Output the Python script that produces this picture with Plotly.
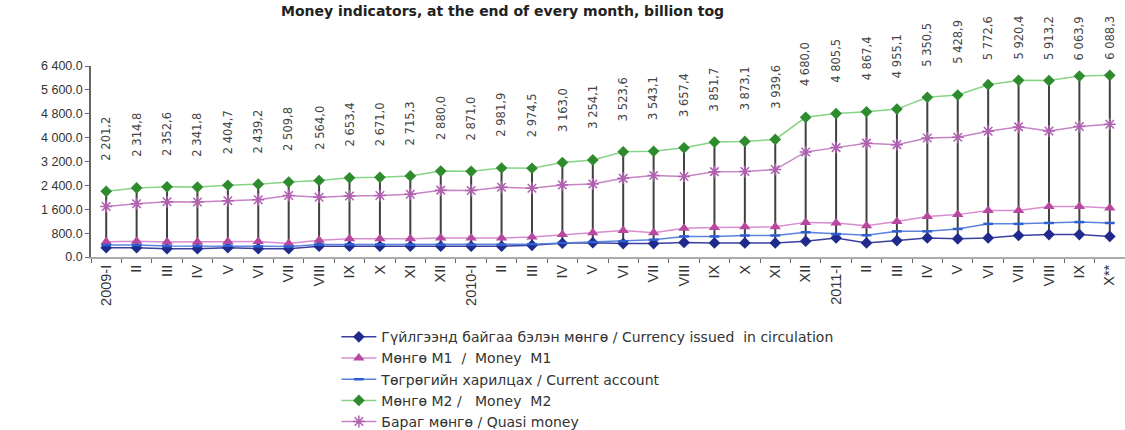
import plotly.graph_objects as go

# ---------------- data ----------------
categories = ["2009-I", "II", "III", "IV", "V", "VI", "VII", "VIII", "IX", "X", "XI", "XII",
              "2010-I", "II", "III", "IV", "V", "VI", "VII", "VIII", "IX", "X", "XI", "XII",
              "2011-I", "II", "III", "IV", "V", "VI", "VII", "VIII", "IX", "X**"]

money_m2 = [2201.2, 2314.8, 2352.6, 2341.8, 2404.7, 2439.2, 2509.8, 2564.0, 2653.4, 2671.0,
            2715.3, 2880.0, 2871.0, 2981.9, 2974.5, 3163.0, 3254.1, 3523.6, 3543.1, 3657.4,
            3851.7, 3873.1, 3939.6, 4680.0, 4805.5, 4867.4, 4955.1, 5350.5, 5428.9, 5772.6,
            5920.4, 5913.2, 6063.9, 6088.3]

money_m1 = [510, 530, 500, 500, 520, 520, 450, 560, 610, 610, 610, 640,
            640, 640, 670, 750, 810, 890, 810, 960, 990, 1010, 1010, 1160,
            1140, 1050, 1190, 1360, 1420, 1560, 1560, 1690, 1690, 1640]

quasi_money = [1690, 1785, 1850, 1840, 1885, 1920, 2060, 2005, 2045, 2060, 2105, 2240,
               2230, 2340, 2305, 2415, 2445, 2635, 2730, 2700, 2860, 2865, 2930, 3520,
               3665, 3815, 3765, 3990, 4010, 4215, 4360, 4225, 4375, 4450]

current_account = [400, 400, 370, 370, 380, 360, 350, 420, 420, 420, 410, 410,
                   410, 410, 430, 470, 500, 530, 580, 690, 690, 720, 720, 830,
                   770, 730, 860, 860, 940, 1110, 1110, 1140, 1170, 1140]

currency_issued = [310, 310, 280, 280, 310, 280, 280, 360, 360, 360, 360, 360,
                   360, 360, 390, 460, 480, 450, 450, 490, 470, 470, 470, 530,
                   640, 470, 550, 640, 610, 640, 720, 750, 750, 690]

y_ticks = [0, 800, 1600, 2400, 3200, 4000, 4800, 5600, 6400]
y_tick_labels = ["0.0", "800.0", "1 600.0", "2 400.0", "3 200.0", "4 000.0",
                 "4 800.0", "5 600.0", "6 400.0"]

names = ["Гүйлгээнд байгаа бэлэн мөнгө / Currency issued  in circulation",
         "Мөнгө М1  /  Money  M1",
         "Төгрөгийн харилцах / Current account",
         "Мөнгө М2 /   Money  M2",
         "Бараг мөнгө / Quasi money"]

title_text = "Money indicators, at the end of every month, billion tog"

# ---------------- figure ----------------
x = list(range(len(categories)))
all_series = [currency_issued, money_m1, current_account, money_m2, quasi_money]

# high-low lines (from lowest to highest series value at each month)
hl_x, hl_y = [], []
for i in x:
    vals = [s[i] for s in all_series]
    hl_x += [i, i, None]
    hl_y += [min(vals), max(vals), None]

fig = go.Figure()
fig.add_trace(go.Scatter(x=hl_x, y=hl_y, mode="lines", line=dict(color="#404040", width=2),
                         showlegend=False, hoverinfo="skip"))

styles = [
    dict(line="#3a3fa0", marker=dict(symbol="diamond", size=9, color="#1f2a8c")),
    dict(line="#d98ccf", marker=dict(symbol="triangle-up", size=10, color="#b8489f")),
    dict(line="#5b82dd", marker=dict(symbol="line-ew", size=7, color="#2e5fcf",
                                     line=dict(width=2.5, color="#2e5fcf"))),
    dict(line="#86d486", marker=dict(symbol="diamond", size=9, color="#2e8b2e")),
    dict(line="#c684c6", marker=dict(symbol="asterisk-open", size=10, color="#b060b0",
                                     line=dict(width=1.5, color="#b060b0"))),
]

for s, nm, st in zip(all_series, names, styles):
    fig.add_trace(go.Scatter(x=x, y=s, name=nm, mode="lines+markers",
                             line=dict(color=st["line"], width=1.5),
                             marker=st["marker"]))

# data labels on M2 (placed above the point, kept inside the chart at the top)
label_gap = 834     # distance above the point, in axis units
label_cap = 6400    # highest allowed label anchor (top of axis)
for i, v in enumerate(money_m2):
    lbl = f"{v:,.1f}".replace(",", " ").replace(".", ",")
    fig.add_annotation(x=i, y=min(v + label_gap, label_cap), text=lbl, textangle=-90,
                       showarrow=False, yanchor="bottom", xanchor="center", yshift=4,
                       font=dict(size=11.5, color="#444", family="DejaVu Sans"))

# title
fig.add_annotation(xref="paper", yref="paper", x=0.398, y=1.0, yshift=65,
                   xanchor="center", yanchor="top", showarrow=False,
                   text=f"<b>{title_text}</b>",
                   font=dict(size=14, color="#222", family="DejaVu Sans"))

fig.update_layout(
    width=1125, height=430,
    margin=dict(l=90.5, r=0, t=65.5, b=172.5, autoexpand=False),
    paper_bgcolor="white", plot_bgcolor="white",
    font=dict(family="Liberation Sans, Arial", color="#333"),
    showlegend=True,
    legend=dict(x=0.2373, y=-0.336, xanchor="left", yanchor="top",
                font=dict(size=14, color="#333", family="DejaVu Sans"), tracegroupgap=0,
                itemwidth=35, bgcolor="rgba(0,0,0,0)"),
)

fig.update_xaxes(range=[-0.5, len(categories) - 0.5], tickmode="array", tickvals=x,
                 ticktext=categories, tickangle=-90, ticks="", showgrid=False,
                 showline=True, linecolor="#aaaaaa", linewidth=2,
                 tickfont=dict(size=14.5, color="#333"), zeroline=False,
                 minor=dict(tickvals=[i - 0.5 for i in x] + [len(x) - 0.5],
                            ticks="outside", ticklen=4, tickcolor="#666"))
fig.update_yaxes(range=[0, 6400], tickmode="array", tickvals=y_ticks,
                 ticktext=y_tick_labels, ticks="outside", ticklen=4, tickcolor="#666",
                 showgrid=False, showline=True, linecolor="#666", linewidth=1.5,
                 zeroline=False, tickfont=dict(size=12.5, color="#333"))

fig.write_html("out.html", config={"displayModeBar": False},
               post_script="document.body.style.margin='0';document.body.style.overflow='hidden';")
